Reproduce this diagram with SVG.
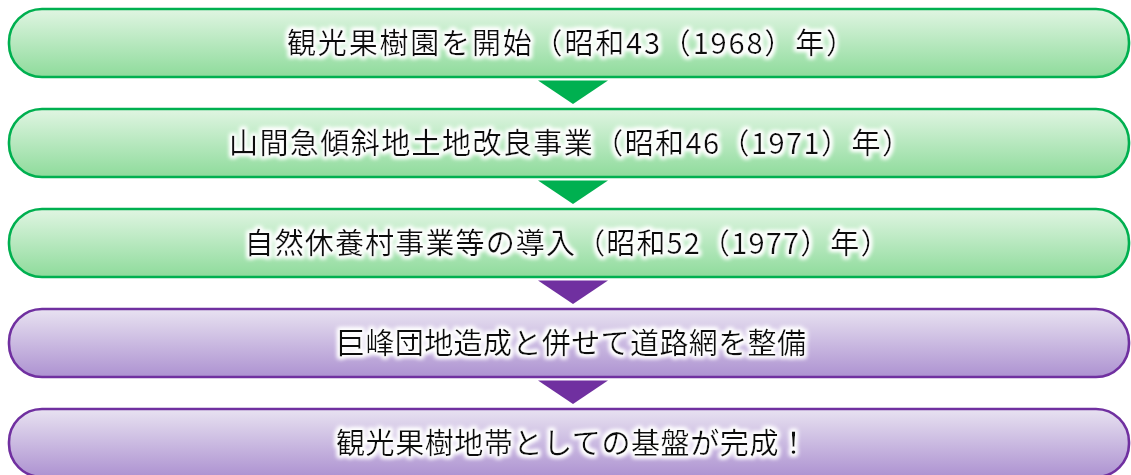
<svg xmlns="http://www.w3.org/2000/svg" width="1131" height="475" viewBox="0 0 1131 475">
  <defs>
    <linearGradient id="gGreen" x1="0" y1="0" x2="0" y2="1">
      <stop offset="0" stop-color="#E0F5E2"/>
      <stop offset="1" stop-color="#8EDB9B"/>
    </linearGradient>
    <linearGradient id="gPurple" x1="0" y1="0" x2="0" y2="1">
      <stop offset="0" stop-color="#E8E2F1"/>
      <stop offset="1" stop-color="#AD92D1"/>
    </linearGradient>
    <filter id="glow" x="-5%" y="-40%" width="110%" height="180%">
      <feMorphology in="SourceAlpha" operator="dilate" radius="1.5" result="d"/>
      <feGaussianBlur in="d" stdDeviation="2" result="b"/>
      <feFlood flood-color="#FFFFFF"/>
      <feComposite in2="b" operator="in" result="w"/>
      <feMerge>
        <feMergeNode in="w"/>
        <feMergeNode in="w"/>
        <feMergeNode in="SourceGraphic"/>
      </feMerge>
    </filter>
  </defs>
  <style>
    .box { stroke-width: 2.6; }
    .green { fill: url(#gGreen); stroke: #00B050; }
    .purple { fill: url(#gPurple); stroke: #7030A0; }
    .lbl { font-family: "Noto Sans CJK JP", "Noto Sans", sans-serif; font-size: 29px; fill: #111111; text-anchor: middle; filter: url(#glow); }
    .tg { fill: #00B050; }
    .tp { fill: #7030A0; }
  </style>
  <g id="connectors">
    <polygon class="tg" points="538,80.5 608,80.5 573,104"/>
    <polygon class="tg" points="538,180.5 608,180.5 573,204"/>
    <polygon class="tp" points="538,280.5 608,280.5 573,304"/>
    <polygon class="tp" points="538,380.5 608,380.5 573,404"/>
  </g>
  <g id="node1">
    <rect class="box green" x="9" y="9" width="1120" height="68" rx="33" ry="33"/>
    <text class="lbl" x="571" y="54" textLength="568" lengthAdjust="spacing">観光果樹園を開始（昭和43（1968）年）</text>
  </g>
  <g id="node2">
    <rect class="box green" x="9" y="109" width="1120" height="68" rx="33" ry="33"/>
    <text class="lbl" x="570" y="154" textLength="682" lengthAdjust="spacing">山間急傾斜地土地改良事業（昭和46（1971）年）</text>
  </g>
  <g id="node3">
    <rect class="box green" x="9" y="209" width="1120" height="68" rx="33" ry="33"/>
    <text class="lbl" x="567" y="254" textLength="645" lengthAdjust="spacing">自然休養村事業等の導入（昭和52（1977）年）</text>
  </g>
  <g id="node4">
    <rect class="box purple" x="9" y="309" width="1120" height="68" rx="33" ry="33"/>
    <text class="lbl" x="571" y="354" textLength="470" lengthAdjust="spacing">巨峰団地造成と併せて道路網を整備</text>
  </g>
  <g id="node5">
    <rect class="box purple" x="9" y="409" width="1120" height="68" rx="33" ry="33"/>
    <text class="lbl" x="572" y="454" textLength="472" lengthAdjust="spacing">観光果樹地帯としての基盤が完成！</text>
  </g>
</svg>
